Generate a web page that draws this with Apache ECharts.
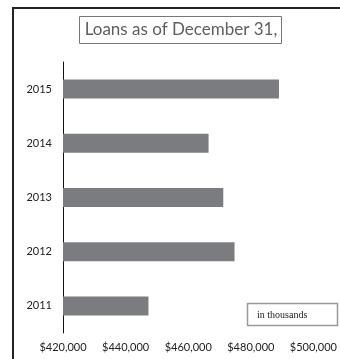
<!DOCTYPE html>
<html>
<head>
<meta charset="utf-8">
<script src="https://cdn.jsdelivr.net/npm/echarts@6/dist/echarts.min.js"></script>
<style>
html, body { margin: 0; padding: 0; background: #fff; }
#chart { width: 340px; height: 359px; }
</style>
</head>
<body>
<div id="chart"></div>
<script>
// 贷款数据 (in thousands)
var years = ['2011', '2012', '2013', '2014', '2015'];
var loans = [447300, 474800, 471200, 466500, 489000];
var xTicks = [420000, 440000, 460000, 480000, 500000];

var chart = echarts.init(document.getElementById('chart'));

var fmtMoney = function (v) {
	return '$' + String(v).replace(/\B(?=(\d{3})+(?!\d))/g, ',');
};

var option = {
	animation: false,
	grid: {
		left: 63,
		right: 26,
		top: 62,
		bottom: 26,
		containLabel: false
	},
	graphic: [
		// 外框
		{ type: 'line', shape: { x1: 12, y1: 8, x2: 340, y2: 8 }, style: { stroke: '#222', lineWidth: 2 } },
		{ type: 'line', shape: { x1: 13, y1: 8, x2: 13, y2: 359 }, style: { stroke: '#222', lineWidth: 2 } },
		// 标题框
		{ type: 'rect', shape: { x: 79.5, y: 16.5, width: 202, height: 27 }, style: { fill: '#fff', stroke: '#777', lineWidth: 1 } },
		{
			type: 'text', x: 181, y: 30,
			style: { text: 'Loans as of December 31,', fill: '#5e5e5e', font: '17px Lato', textAlign: 'center', textVerticalAlign: 'middle' }
		},
		// 单位说明
		{ type: 'rect', shape: { x: 247.5, y: 303.5, width: 90, height: 22 }, style: { fill: '#fff', stroke: '#999', lineWidth: 1.5 } },
		{
			type: 'text', x: 257, y: 315,
			style: { text: 'in thousands', fill: '#222', font: '10px "Liberation Serif"', textVerticalAlign: 'middle' }
		}
	],
	xAxis: {
		type: 'value',
		min: xTicks[0],
		max: xTicks[xTicks.length - 1],
		interval: 20000,
		axisLine: { show: false },
		axisTick: { show: false },
		splitLine: { show: false },
		axisLabel: {
			color: '#222',
			fontFamily: 'Lato',
			fontSize: 11,
			margin: 9,
			formatter: fmtMoney
		}
	},
	yAxis: {
		type: 'category',
		data: years,
		axisLine: { show: true, lineStyle: { color: '#111', width: 1 } },
		axisTick: { show: false },
		splitLine: { show: false },
		axisLabel: {
			color: '#222',
			fontFamily: 'Lato',
			fontSize: 11,
			margin: 11
		}
	},
	series: [
		{
			type: 'bar',
			data: loans,
			barCategoryGap: '65%',
			itemStyle: { color: '#7b7c80' }
		}
	]
};

chart.setOption(option);
</script>
</body>
</html>
